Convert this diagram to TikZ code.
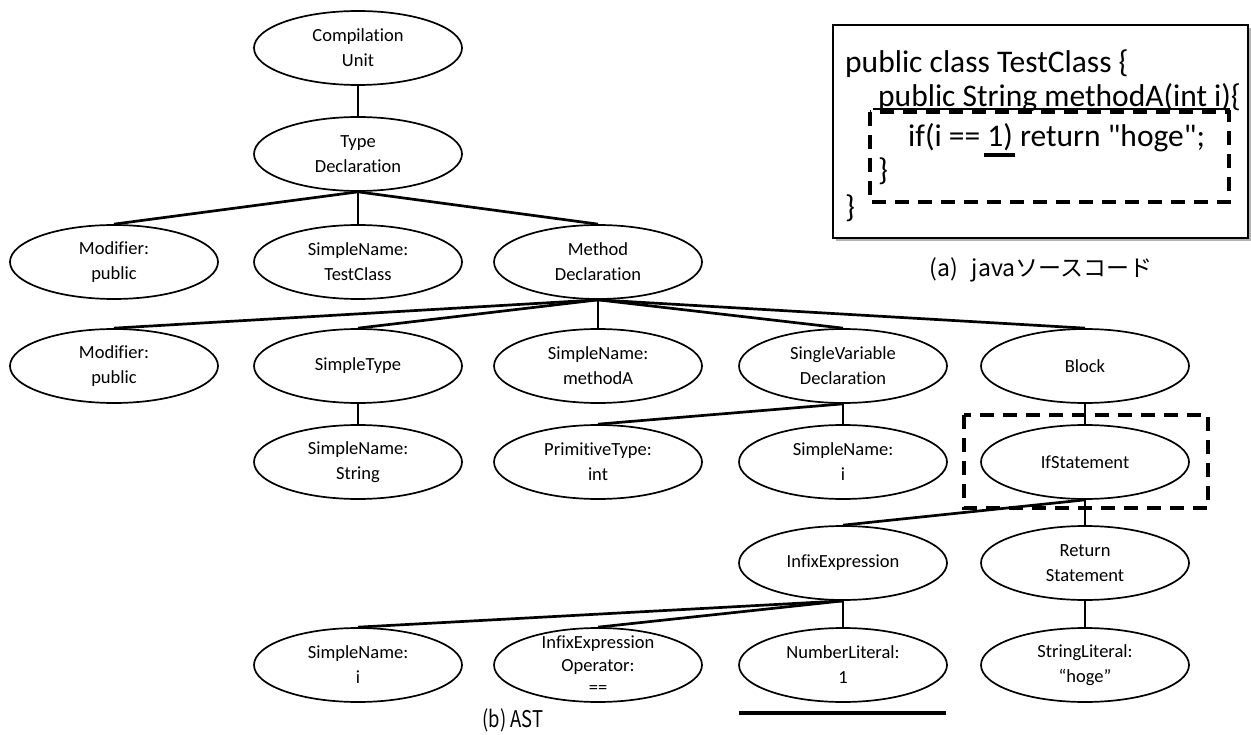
\documentclass[tikz,border=0pt]{standalone}
\usepackage{fontspec}
\setmainfont{Carlito}[Ligatures={TeX,NoCommon}]
\newfontfamily\jpfont{Noto Sans CJK JP}
\newfontfamily\jpnarrow{Noto Sans CJK JP}[FakeStretch=0.8]
\usetikzlibrary{shapes.geometric}
\begin{document}
\begin{tikzpicture}[x=1pt,y=-1pt,
  astnode/.style={ellipse, draw, line width=1.7pt, minimum width=208pt,
    minimum height=74pt, inner sep=0pt},
  txt/.style={align=center, font=\fontsize{18.5}{25}\selectfont, inner sep=0pt},
  txtsmall/.style={align=center, font=\fontsize{18.5}{22.5}\selectfont, inner sep=0pt},
  treeedge/.style={line width=2.7pt},
  codeline/.style={anchor=base west, inner sep=0pt, font=\fontsize{31.5}{36}\selectfont},
  capt/.style={inner sep=0pt},
  thickdash/.style={line width=4.5pt, dash pattern=on 14pt off 9pt},
  mark line/.style={line width=4pt}
]
\useasboundingbox (0,0) rectangle (1251,735);

% ---------- AST nodes ----------
\node[astnode, label={[txt]center:{Compilation\\Unit}}] (cu) at (358,48) {};
\node[astnode, label={[txt]center:{Type\\Declaration}}] (td) at (358,154) {};

\node[astnode, label={[txt]center:{Modifier:\\public}}] (mod1) at (114,262) {};
\node[astnode, label={[txt]center:{SimpleName:\\TestClass}}] (sncls) at (358,262) {};
\node[astnode, label={[txt]center:{Method\\Declaration}}] (md) at (598,262) {};

\node[astnode, label={[txt]center:{Modifier:\\public}}] (mod2) at (114,366) {};
\node[astnode, label={[txt]center:{SimpleType}}] (st) at (358,366) {};
\node[astnode, label={[txt]center:{SimpleName:\\methodA}}] (snm) at (598,366) {};
\node[astnode, label={[txt]center:{SingleVariable\\Declaration}}] (svd) at (843,366) {};
\node[astnode, label={[txt]center:{Block}}] (blk) at (1085,366) {};

\node[astnode, label={[txt]center:{SimpleName:\\String}}] (sns) at (358,462) {};
\node[astnode, label={[txt]center:{PrimitiveType:\\int}}] (pt) at (598,462) {};
\node[astnode, label={[txt]center:{SimpleName:\\i}}] (sni) at (843,462) {};
\node[astnode, label={[txt]center:{IfStatement}}] (ifs) at (1085,462) {};

\node[astnode, label={[txt]center:{InfixExpression}}] (ie) at (843,563) {};
\node[astnode, label={[txt]center:{Return\\Statement}}] (rs) at (1085,563) {};

\node[astnode, label={[txt]center:{SimpleName:\\i}}] (sni2) at (358,665) {};
\node[astnode, label={[txtsmall]center:{InfixExpression\\Operator:\\==}}] (ieo) at (598,665) {};
\node[astnode, label={[txt]center:{NumberLiteral:\\1}}] (nl) at (843,665) {};
\node[astnode, label={[txt]center:{StringLiteral:\\“hoge”}}] (sl) at (1085,665) {};

% ---------- tree edges ----------
\draw[treeedge] (cu.south) -- (td.north);
\foreach \c in {mod1,sncls,md} \draw[treeedge] (td.south) -- (\c.north);
\foreach \c in {mod2,st,snm,svd,blk} \draw[treeedge] (md.south) -- (\c.north);
\draw[treeedge] (st.south) -- (sns.north);
\foreach \c in {pt,sni} \draw[treeedge] (svd.south) -- (\c.north);
\draw[treeedge] (blk.south) -- (ifs.north);
\foreach \c in {ie,rs} \draw[treeedge] (ifs.south) -- (\c.north);
\foreach \c in {sni2,ieo,nl} \draw[treeedge] (ie.south) -- (\c.north);
\draw[treeedge] (rs.south) -- (sl.north);

% highlight around the if statement and under the literal
\draw[thickdash] (964,415) rectangle (1208,508);
\coordinate (ulA) at (739,713);
\coordinate (ulB) at (946,713);
\draw[mark line] (ulA) -- (ulB);

\node[capt, font=\jpnarrow\fontsize{23}{26}\selectfont] (capb) at (513,720) {(b) AST};

% ---------- source code box ----------
\fill[gray!60] (836,28) rectangle (1251,241);
\draw[line width=1.3pt, fill=white] (833,25) rectangle (1248,238);
\node[codeline] (c1) at (845,73) {public class TestClass \{};
\node[codeline] (c2) at (878,107) {public String methodA(int i)\{};
\node[codeline] (c3) at (908,147) {if(i == 1) return \textquotedbl hoge\textquotedbl;};
\node[codeline] (c4) at (878,181) {\}};
\node[codeline] (c5) at (845,218) {\}};
\coordinate (u2a) at (873,109);
\coordinate (u2b) at (1230,109);
\draw[line width=1.2pt] (u2a) -- (u2b);
\coordinate (u3a) at (984,155);
\coordinate (u3b) at (1015,155);
\draw[mark line] (u3a) -- (u3b);
\draw[thickdash] (870,112) rectangle (1229,202);

\node[capt, font=\jpfont\fontsize{23}{26}\selectfont] (capa) at (1041,270) {(a)\hspace{14pt}javaソースコード};
\end{tikzpicture}
\end{document}
